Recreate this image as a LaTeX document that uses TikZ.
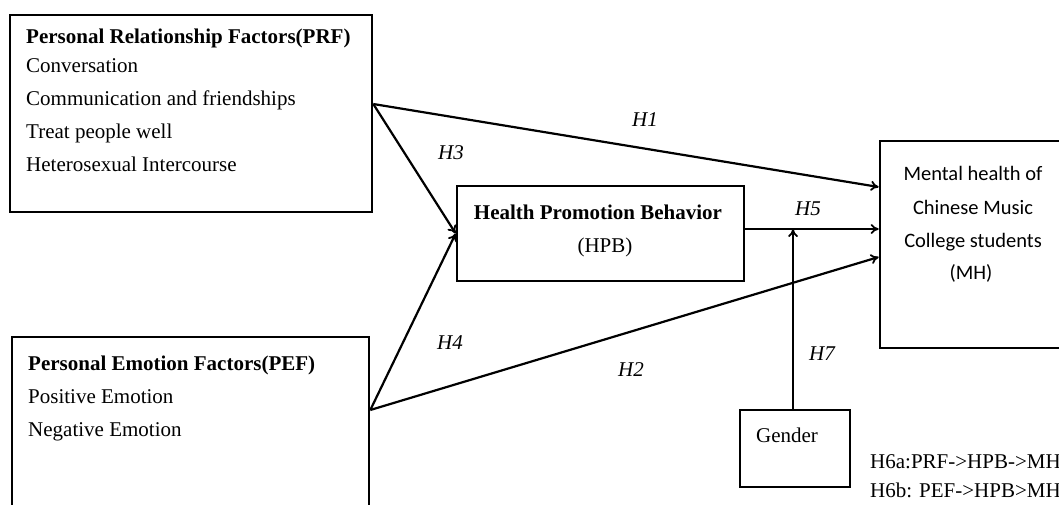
\documentclass[tikz,border=0pt]{standalone}
\usepackage{fontspec}
\setmainfont{Liberation Serif}
\newfontfamily\calfont{Carlito}
\usetikzlibrary{arrows.meta}
\begin{document}
\begin{tikzpicture}[x=1pt,y=-1pt,
  box/.style={draw,line width=2.6pt,inner sep=0pt},
  arr/.style={line width=2.2pt,-{To[length=8pt,width=10pt,line width=1.8pt]}},
  txt/.style={font=\fontsize{21}{25}\selectfont,inner sep=0pt,anchor=base west},
  hyp/.style={font=\fontsize{21}{25}\selectfont\itshape,inner sep=0pt},
  cal/.style={font=\fontsize{20.5}{25}\selectfont\calfont,inner sep=0pt}]
\useasboundingbox (0,0) rectangle (1059,504);
\clip (0,0) rectangle (1059,504);
% boxes
\node[box,minimum width=362pt,minimum height=197pt] (prf) at (191,113.5) {};
\node[box,minimum width=357pt,minimum height=203pt] (pef) at (190.5,438.5) {};
\node[box,minimum width=287pt,minimum height=95pt] (hpb) at (600.5,233.5) {};
\node[box,minimum width=200pt,minimum height=207pt] (mh) at (980,244.5) {};
\node[box,minimum width=110pt,minimum height=77pt] (gen) at (795,448.5) {};
% PRF text
\node[txt,font=\fontsize{21}{25}\selectfont\bfseries] (prft) at (26,43) {Personal Relationship Factors(PRF)};
\node[txt] (p1) at (26,72) {Conversation};
\node[txt] (p2) at (26,105) {Communication and friendships};
\node[txt] (p3) at (26,138) {Treat people well};
\node[txt] (p4) at (26,171) {Heterosexual Intercourse};
% PEF text
\node[txt,font=\fontsize{21}{25}\selectfont\bfseries] (peft) at (28,370) {Personal Emotion Factors(PEF)};
\node[txt] (e1) at (28,403) {Positive Emotion};
\node[txt] (e2) at (28,436) {Negative Emotion};
% HPB text
\node[txt,anchor=base,font=\fontsize{21}{25}\selectfont\bfseries] (hpbt) at (598,219) {Health Promotion Behavior};
\node[txt,anchor=base] (hpbs) at (605,252) {(HPB)};
% MH text
\node[cal,anchor=base] (m1) at (973,180) {Mental health of};
\node[cal,anchor=base] (m2) at (973,214) {Chinese Music};
\node[cal,anchor=base] (m3) at (973,247) {College students};
\node[cal,anchor=base] (m4) at (971,279) {(MH)};
% Gender
\node[txt,anchor=base] (gt) at (787,442) {Gender};
% legend
\node[txt] (l1) at (870,468) {H6a:PRF->HPB->MH};
\node[txt] (l2) at (870,497) {H6b: PEF->HPB>MH};
% connectors
\coordinate (prfo) at (prf.east |- 0,104);
\coordinate (pefo) at (pef.east |- 0,410);
\coordinate (mod) at (793,229);
\draw[arr] (prfo) -- (mh.west |- 0,187);
\draw[arr] (prfo) -- (hpb.west);
\draw[arr] (pefo) -- (hpb.west);
\draw[arr] (pefo) -- (mh.west |- 0,257);
\draw[arr] (hpb.east |- 0,229) -- (mh.west |- 0,229);
\draw[arr] (gen.north -| mod) -- (mod);
% hypothesis labels
\node[hyp] (h1) at (645,120) {H1};
\node[hyp] (h3) at (451,153) {H3};
\node[hyp] (h4) at (450,343) {H4};
\node[hyp] (h2) at (631,370) {H2};
\node[hyp] (h5) at (808,209) {H5};
\node[hyp] (h7) at (822,354) {H7};
\end{tikzpicture}
\end{document}
